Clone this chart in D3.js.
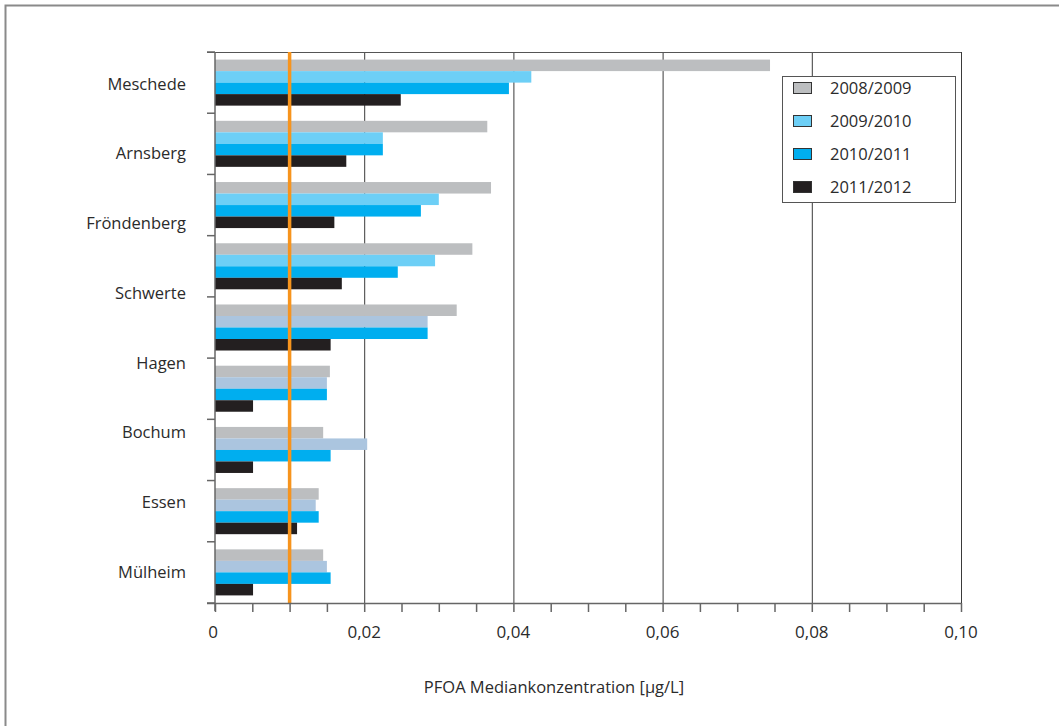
<!DOCTYPE html>
<html>
<head>
<meta charset="utf-8">
<script src="https://cdn.jsdelivr.net/npm/d3@7"></script>
<style>
  html, body { margin: 0; padding: 0; background: #fff; }
  svg { display: block; font-family: "Open Sans", sans-serif; }
</style>
</head>
<body>
<svg id="chart" width="1059" height="726"></svg>
<script>
// ---- data ----
const barGroups = ["G1", "G2", "G3", "G4", "G5", "G6", "G7", "G8", "G9"];
const categoryLabels = ["Meschede", "Arnsberg", "Fröndenberg", "Schwerte", "Hagen", "Bochum", "Essen", "Mülheim"];
const seriesNames = ["2008/2009", "2009/2010", "2010/2011", "2011/2012"];
const v2008 = [0.0744, 0.0365, 0.0370, 0.0345, 0.0324, 0.0154, 0.0145, 0.0139, 0.0145];
const v2009 = [0.0424, 0.0225, 0.0300, 0.0295, 0.0285, 0.0150, 0.0204, 0.0135, 0.0150];
const v2010 = [0.0394, 0.0225, 0.0276, 0.0245, 0.0285, 0.0150, 0.0155, 0.0139, 0.0155];
const v2011 = [0.0249, 0.0176, 0.0160, 0.0170, 0.0155, 0.0051, 0.0051, 0.0110, 0.0051];
const xTicks = [0, 0.02, 0.04, 0.06, 0.08, 0.10];
const xTickLabels = ["0", "0,02", "0,04", "0,06", "0,08", "0,10"];
const referenceValue = 0.01;
const axisTitle = "PFOA Mediankonzentration [µg/L]";
const steelGroups = ["G5", "G6", "G7", "G8", "G9"]; // groups drawn with the pale steel shade for 2009/2010

const seriesValues = [v2008, v2009, v2010, v2011];
const colors = ["#bcbec0", "#6dcff6", "#00aeef", "#231f20"];
const steelColor = "#abc5df";

// ---- layout ----
const svg = d3.select("#chart");
const L = 215, R = 961, T = 52, B = 603;

const x = d3.scaleLinear().domain([0, 0.10]).range([L, R]);
const y0 = d3.scaleBand().domain(barGroups).range([T, B]).padding(0);
const y1 = d3.scaleBand().domain(seriesNames).range([0, y0.bandwidth()]).paddingInner(0).paddingOuter(0.66);
const yLab = d3.scaleBand().domain(categoryLabels).range([49, 607]);

// outer frame
svg.append("path")
  .attr("d", `M5.5,726 L5.5,5.5 L1059,5.5`)
  .attr("fill", "none").attr("stroke", "#8a8a8a").attr("stroke-width", 2);

// vertical gridlines
svg.append("g").selectAll("line").data(xTicks.slice(1)).join("line")
  .attr("x1", d => x(d) + 0.5).attr("x2", d => x(d) + 0.5)
  .attr("y1", T).attr("y2", B)
  .attr("stroke", "#3a3a3a").attr("stroke-width", 1);

// top line
svg.append("line").attr("x1", L - 8).attr("x2", R).attr("y1", T + 0.5).attr("y2", T + 0.5)
  .attr("stroke", "#555").attr("stroke-width", 1);

// bars
const gGroups = svg.append("g").selectAll("g").data(barGroups).join("g")
  .attr("transform", d => `translate(0,${y0(d)})`);
gGroups.selectAll("rect")
  .data((g, gi) => seriesNames.map((s, si) => ({ g, s, si, v: seriesValues[si][gi] })))
  .join("rect")
  .attr("x", x(0))
  .attr("y", d => y1(d.s))
  .attr("width", d => x(d.v) - x(0))
  .attr("height", y1.bandwidth())
  .attr("fill", d => (d.si === 1 && steelGroups.includes(d.g)) ? steelColor : colors[d.si]);

// reference line
svg.append("line")
  .attr("x1", x(referenceValue)).attr("x2", x(referenceValue))
  .attr("y1", T).attr("y2", B)
  .attr("stroke", "#f7941d").attr("stroke-width", 3.5);

// y axis (category ticks)
svg.append("line").attr("x1", L).attr("x2", L).attr("y1", T).attr("y2", B + 8)
  .attr("stroke", "#666").attr("stroke-width", 1.5);
const yTickPos = barGroups.map(g => y0(g)).concat([B]);
svg.append("g").selectAll("line").data(yTickPos).join("line")
  .attr("x1", L - 8).attr("x2", L).attr("y1", d => d).attr("y2", d => d)
  .attr("stroke", "#666").attr("stroke-width", 1.5);

// category labels
svg.append("g").selectAll("text").data(categoryLabels).join("text")
  .attr("x", 186)
  .attr("y", d => yLab(d) + yLab.bandwidth() / 2)
  .attr("dy", "0.35em")
  .attr("text-anchor", "end")
  .attr("font-size", 16.5)
  .attr("fill", "#2b2b2b")
  .text(d => d);

// x axis
const xAxis = d3.axisBottom(x)
  .tickValues(d3.range(0, 0.1001, 0.005))
  .tickSize(9)
  .tickFormat(() => "");
const gx = svg.append("g").attr("transform", `translate(0,${B})`).call(xAxis);
gx.select(".domain").attr("stroke", "#666").attr("stroke-width", 1.5).attr("d", `M${L - 8},0.5H${R}`);
gx.selectAll(".tick line").attr("stroke", "#666").attr("stroke-width", 1.5);

svg.append("g").selectAll("text").data(xTicks).join("text")
  .attr("x", d => x(d) - (d === 0 ? 2 : 0))
  .attr("y", 638)
  .attr("text-anchor", "middle")
  .attr("font-size", 17)
  .attr("fill", "#2b2b2b")
  .text((d, i) => xTickLabels[i]);

// axis title
svg.append("text")
  .attr("x", 554).attr("y", 693)
  .attr("text-anchor", "middle")
  .attr("font-size", 16.5)
  .attr("fill", "#2b2b2b")
  .text(axisTitle);

// legend
const lg = svg.append("g");
lg.append("rect").attr("x", 782.5).attr("y", 76.5).attr("width", 173).attr("height", 126)
  .attr("fill", "#fff").attr("stroke", "#555").attr("stroke-width", 1);
const rowY = d3.scalePoint().domain(seriesNames).range([88, 187]);
const rows = lg.selectAll("g").data(seriesNames).join("g")
  .attr("transform", d => `translate(0,${rowY(d)})`);
rows.append("rect").attr("x", 793.5).attr("y", -5.5).attr("width", 18).attr("height", 11)
  .attr("fill", (d, i) => colors[i]).attr("stroke", "#333").attr("stroke-width", 1);
rows.append("text").attr("x", 830).attr("y", 0).attr("dy", "0.35em")
  .attr("font-size", 16.5).attr("fill", "#2b2b2b").text(d => d);
</script>
</body>
</html>
